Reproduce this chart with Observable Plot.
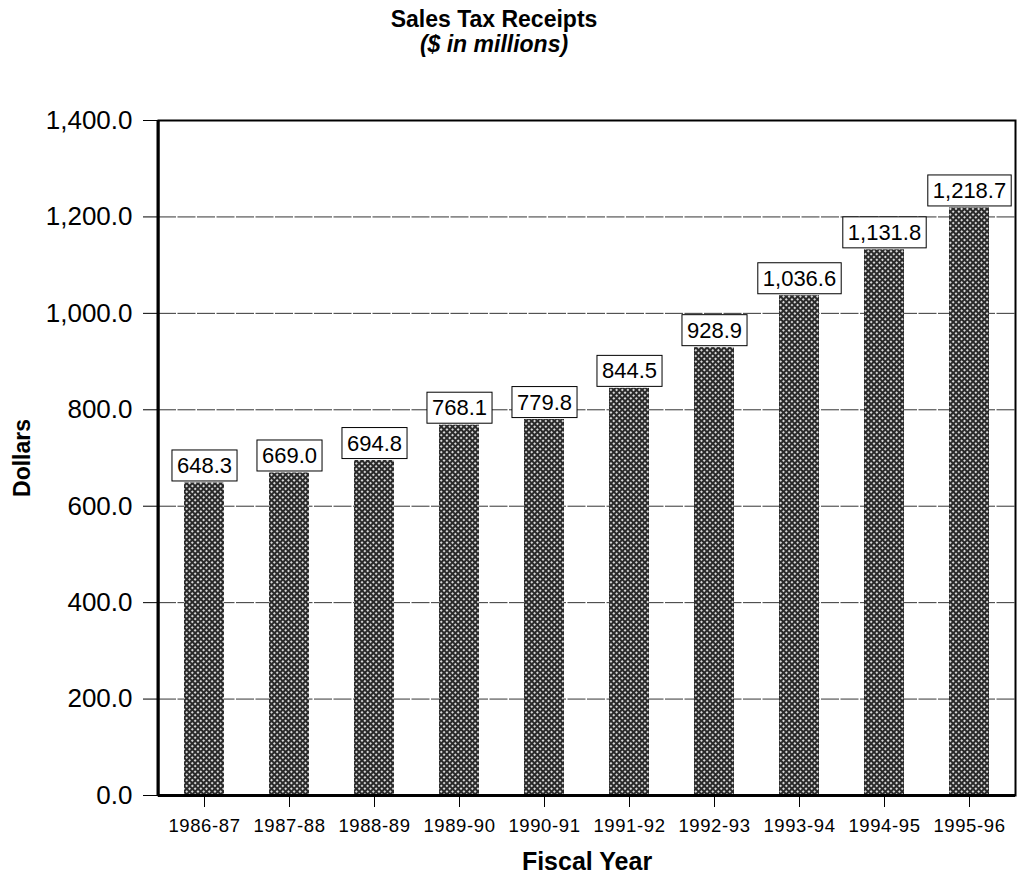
<!DOCTYPE html>
<html>
<head>
<meta charset="utf-8">
<script src="https://cdn.jsdelivr.net/npm/d3@7"></script>
<script src="https://cdn.jsdelivr.net/npm/@observablehq/plot@0.6"></script>
<style>
  html, body { margin: 0; padding: 0; background: #fff; }
  body { width: 1018px; height: 877px; font-family: "Liberation Sans", Arial, sans-serif; }
  #title { height: 100px; text-align: center; padding-top: 7px; padding-right: 30px; box-sizing: border-box; }
  #title .t1 { font-weight: bold; font-size: 23px; line-height: 25px; }
  #title .t2 { font-weight: bold; font-style: italic; font-size: 23px; line-height: 25px; }
  #chart svg { display: block; overflow: visible; }
  g[aria-label="x-axis label"] text { font-weight: bold; font-size: 25px; fill: #000; }
  g[aria-label="y-axis label"] text { font-weight: bold; font-size: 23px; fill: #000; }
  g[aria-label="y-axis tick label"] text { font-size: 26px; fill: #000; }
  g[aria-label="x-axis tick label"] text { font-size: 18.5px; letter-spacing: 0.6px; fill: #000; }
</style>
</head>
<body>
<div id="title"><div class="t1">Sales Tax Receipts</div><div class="t2">($ in millions)</div></div>
<div id="chart"></div>
<script>
const years = ["1986-87","1987-88","1988-89","1989-90","1990-91","1991-92","1992-93","1993-94","1994-95","1995-96"];
const receipts = [648.3, 669.0, 694.8, 768.1, 779.8, 844.5, 928.9, 1036.6, 1131.8, 1218.7];
const yTicks = [0, 200, 400, 600, 800, 1000, 1200, 1400];

const data = years.map((y, i) => ({year: y, value: receipts[i]}));
const fmt = d3.format(",.1f");

const chart = Plot.plot({
  width: 1018,
  height: 777,
  marginTop: 20,
  marginBottom: 82,
  marginLeft: 158,
  marginRight: 3,
  style: {fontFamily: "'Liberation Sans', Arial, sans-serif", color: "#000", background: "#fff"},
  x: {domain: years, paddingInner: 0.53, paddingOuter: 0.265, label: "Fiscal Year"},
  y: {domain: [0, 1400], ticks: yTicks, label: "Dollars"},
  marks: [
    Plot.gridY(yTicks, {stroke: "#111", strokeOpacity: 0.85, strokeWidth: 1, strokeDasharray: "18,1.5"}),
    Plot.barY(data, {x: "year", y: "value", fill: "url(#hatch)"}),
    Plot.axisY(yTicks, {tickFormat: fmt, tickSize: 15, tickPadding: 11, label: "Dollars", labelAnchor: "center", labelOffset: 145, labelArrow: "none"}),
    Plot.axisX({tickSize: 12, tickPadding: 11, label: "Fiscal Year", labelAnchor: "center", labelOffset: 74, labelArrow: "none"}),
    Plot.ruleY([0], {stroke: "#000", strokeWidth: 3}),
    Plot.frame({stroke: "#000", strokeWidth: 2}),
    Plot.text(data, {x: "year", y: "value", text: d => fmt(d.value), dy: -17, fontSize: 22, fill: "#000", className: "vlabel"})
  ]
});

document.getElementById("chart").appendChild(chart);

// pattern for bars
const svgNS = "http://www.w3.org/2000/svg";
const defs = document.createElementNS(svgNS, "defs");
defs.innerHTML = `<pattern id="hatch" patternUnits="userSpaceOnUse" width="4" height="4" patternTransform="rotate(45)">
  <rect width="4" height="4" fill="#2a2a2a"></rect>
  <rect x="0" y="0" width="2" height="2" fill="#d8d8d8"></rect>
</pattern>`;
chart.insertBefore(defs, chart.firstChild);

// thicker left border of the plot area
const leftLine = document.createElementNS(svgNS, "line");
leftLine.setAttribute("x1", 158); leftLine.setAttribute("x2", 158);
leftLine.setAttribute("y1", 20); leftLine.setAttribute("y2", 777 - 82);
leftLine.setAttribute("stroke", "#000"); leftLine.setAttribute("stroke-width", 3);
chart.appendChild(leftLine);

// label boxes
chart.querySelectorAll(".vlabel text").forEach(t => {
  const b = t.getBBox();
  const r = document.createElementNS(svgNS, "rect");
  r.setAttribute("x", b.x - 5);
  r.setAttribute("y", b.y - 3);
  r.setAttribute("width", b.width + 10);
  r.setAttribute("height", b.height + 6);
  r.setAttribute("fill", "#fff");
  r.setAttribute("stroke", "#000");
  r.setAttribute("stroke-width", 1);
  const tr = t.getAttribute("transform");
  if (tr) r.setAttribute("transform", tr);
  t.parentNode.insertBefore(r, t);
});
</script>
</body>
</html>
